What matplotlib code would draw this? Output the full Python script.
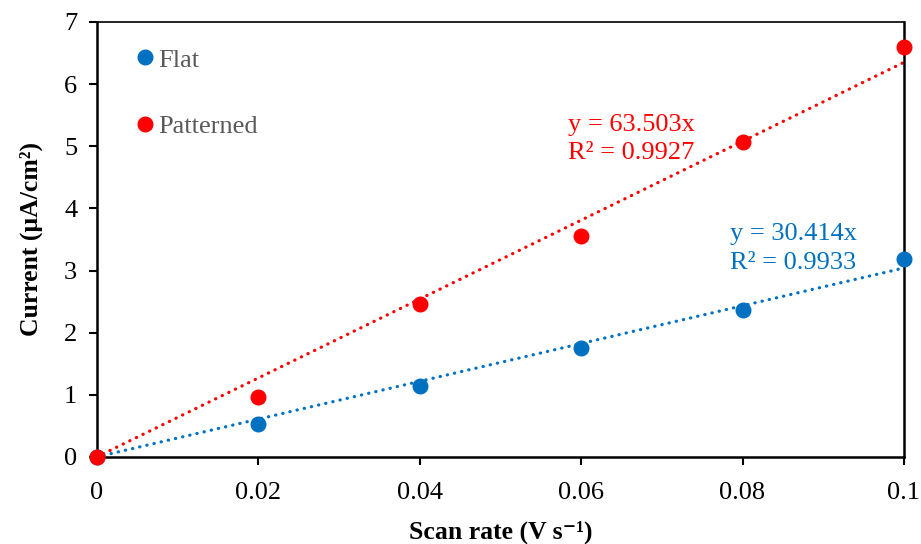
import numpy as np
import matplotlib
matplotlib.use("Agg")
import matplotlib.pyplot as plt

plt.rcParams['font.family'] = ['Liberation Serif', 'DejaVu Serif']

# Scan rate (V/s) and current density (uA/cm^2)
scan_rate = [0.0, 0.02, 0.04, 0.06, 0.08, 0.1]
flat = [0.0, 0.53, 1.14, 1.75, 2.37, 3.19]
patterned = [0.0, 0.97, 2.46, 3.56, 5.07, 6.60]

# Linear fits through origin
flat_slope, flat_r2 = 30.414, 0.9933
pat_slope, pat_r2 = 63.503, 0.9927

x_ticks = [0, 0.02, 0.04, 0.06, 0.08, 0.1]
x_tick_labels = ["0", "0.02", "0.04", "0.06", "0.08", "0.1"]
y_ticks = [0, 1, 2, 3, 4, 5, 6, 7]

blue = "#0070C0"
red = "#FF0000"
fs = 19

fig = plt.figure(figsize=(9.21, 5.44), dpi=100)
ax = fig.add_axes([0.105, 0.16, 0.8765, 0.7996])

xfit = np.array([0.0, 0.1])
dots = (0, (0.1, 2.2))
ax.plot(xfit, flat_slope * xfit, ls=dots, lw=2.3, color=blue,
        dash_capstyle='round', zorder=2)
ax.plot(xfit, pat_slope * xfit, ls=dots, lw=2.3, color=red,
        dash_capstyle='round', zorder=2)

ax.plot(scan_rate, flat, 'o', ms=10.5, color=blue, label="Flat", zorder=3,
        clip_on=False)
ax.plot(scan_rate, patterned, 'o', ms=10.5, color=red, label="Patterned",
        zorder=3, clip_on=False)

ax.text(0.0584, 5.117, f"y = {pat_slope}x\nR² = {pat_r2}", color=red,
        fontsize=fs, va='center', ha='left', linespacing=1.4)
ax.text(0.0784, 3.355, f"y = {flat_slope}x\nR² = {flat_r2}", color=blue,
        fontsize=fs, va='center', ha='left', linespacing=1.4)

ax.set_xlim(0, 0.1)
ax.set_ylim(0, 7)
ax.set_xticks(x_ticks)
ax.set_xticklabels(x_tick_labels)
ax.set_yticks(y_ticks)
ax.tick_params(axis='both', labelsize=fs, direction='out', length=6,
               width=1.5, colors='black', pad=8)
ax.tick_params(axis='x', pad=12)
for side in ['left', 'bottom', 'right']:
    ax.spines[side].set_linewidth(1.8)
ax.spines['top'].set_linewidth(1.2)

ax.set_xlabel("Scan rate (V s\u207b\u00b9)", fontsize=18.5,
              fontweight='bold', labelpad=12)
ax.set_ylabel("Current (μA/cm²)", fontsize=18.5,
              fontweight='bold', labelpad=15)

leg = ax.legend(loc='upper left', bbox_to_anchor=(0.030, 0.964),
                frameon=False, fontsize=fs, handletextpad=0.0,
                labelspacing=1.64, handlelength=1.0, borderaxespad=0)
for t in leg.get_texts():
    t.set_color("#595959")

fig.savefig("out.png", dpi=100)
